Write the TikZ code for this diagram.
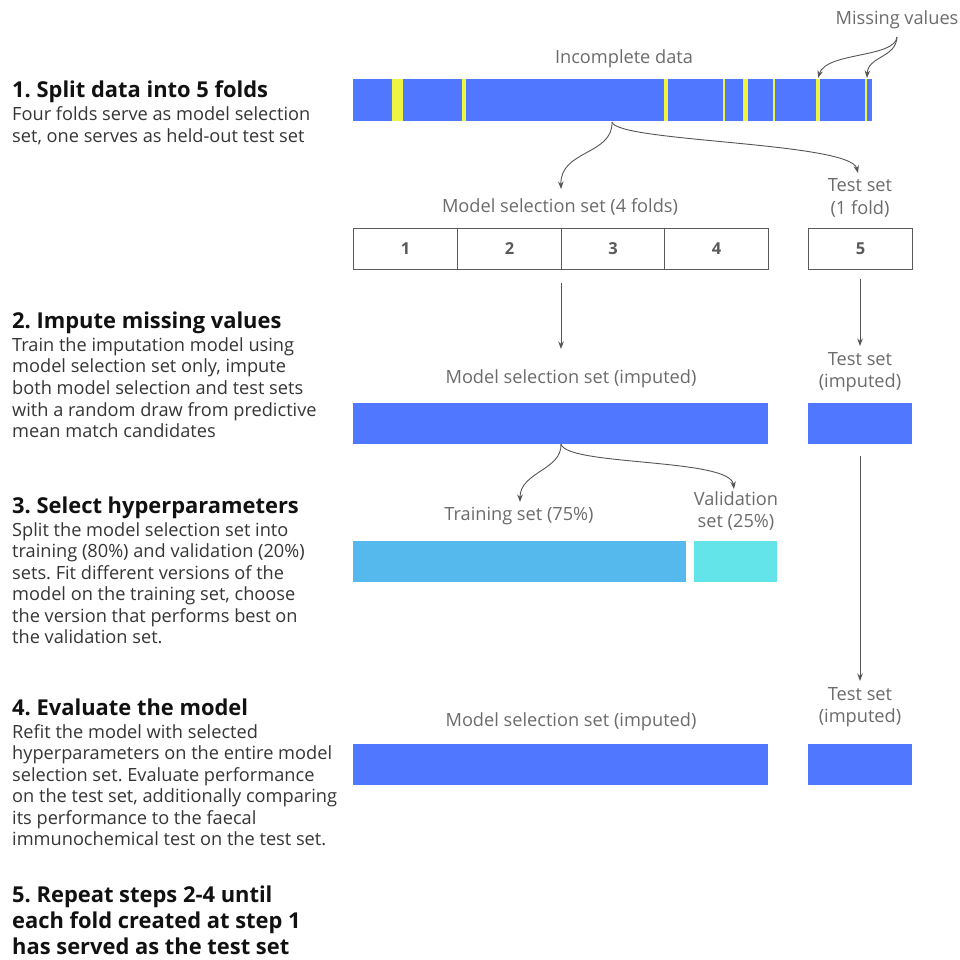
\documentclass[tikz,border=0pt]{standalone}
\usepackage{fontspec}
\setmainfont{Open Sans}
\frenchspacing
\usetikzlibrary{arrows.meta}
\definecolor{barblue}{HTML}{4F77FF}
\definecolor{misy}{HTML}{EDF542}
\definecolor{trainc}{HTML}{55B9EE}
\definecolor{validc}{HTML}{62E4E9}
\definecolor{labc}{HTML}{6B6B6B}
\definecolor{linec}{HTML}{555555}
\definecolor{bodyc}{HTML}{353535}
\definecolor{headc}{HTML}{111111}
\definecolor{foldc}{HTML}{5A5A5A}
\tikzset{
  head/.style={anchor=base west, inner sep=0, font=\fontsize{21.9}{25}\selectfont\bfseries, text=headc},
  bodyl/.style={anchor=base west, inner sep=0, font=\fontsize{18.2}{21}\selectfont, text=bodyc},
  lab/.style={anchor=base, inner sep=0, font=\fontsize{18.2}{21}\selectfont, text=labc},
  bar/.style={anchor=north west, inner sep=0, draw=none},
  foldbox/.style={anchor=north west, inner sep=0, draw=foldc, line width=1pt, minimum height=41pt, font=\fontsize{16.5}{18}\selectfont\bfseries, text=foldc},
  arr/.style={draw=linec, line width=0.9pt, -{Stealth[length=7.5pt,width=5.5pt]}},
}
\begin{document}
\begin{tikzpicture}[x=1pt,y=-1pt]
\useasboundingbox (0,0) rectangle (960,960);
% ---------- left texts ----------
\node[head] (h1) at (12,98) {1. Split data into 5 folds};
\foreach \t [count=\i] in {Four folds serve as model selection, {set, one serves as held-out test set}}
  \node[bodyl] (b1-\i) at (12,{121+21.7*(\i-1)}) {\t};
\node[head] (h2) at (12,328) {2. Impute missing values};
\foreach \t [count=\i] in {Train the imputation model using, {model selection set only, impute}, both model selection and test sets, with a random draw from predictive, mean match candidates}
  \node[bodyl] (b2-\i) at (12,{351+21.7*(\i-1)}) {\t};
\node[head] (h3) at (12,513) {3. Select hyperparameters};
\foreach \t [count=\i] in {Split the model selection set into, training (80\%) and validation (20\%), sets. Fit different versions of the, {model on the training set, choose}, the version that performs best on, the validation set.}
  \node[bodyl] (b3-\i) at (12,{536+21.5*(\i-1)}) {\t};
\node[head] (h4) at (12,715) {4. Evaluate the model};
\foreach \t [count=\i] in {Refit the model with selected, hyperparameters on the entire model, selection set. Evaluate performance, {on the test set, additionally comparing}, its performance to the faecal, immunochemical test on the test set.}
  \node[bodyl] (b4-\i) at (12,{738+21.5*(\i-1)}) {\t};
\foreach \t [count=\i] in {5. Repeat steps 2-4 until, each fold created at step 1, has served as the test set}
  \node[head] (h5-\i) at (12,{902+26*(\i-1)}) {\t};
% ---------- step 1 ----------
\node[lab] (lmiss) at (897,25) {Missing values};
\node[lab] (linc) at (624,64) {Incomplete data};
\node[bar, fill=barblue, minimum width=519pt, minimum height=42pt] (raw) at (353,79) {};
\foreach \a/\b [count=\i] in {391.5/402.5, 461.8/465.5, 664/667.8, 723/725, 743/748.4, 773.4/775.4, 816.2/820, 864.6/867}
  \fill[misy] (\a,79) rectangle (\b,121);
\coordinate (mj) at (897,37);
\coordinate (mt1) at (818,78);
\coordinate (mt2) at (867,78);
\draw[arr] (mj) .. controls (895,58) and (826,52) .. (mt1);
\draw[arr] (mj) .. controls (896,58) and (868,56) .. (mt2);
\coordinate (j1) at (612,122);
\coordinate (t1) at (561,189);
\coordinate (t2) at (858,173);
\draw[arr] (j1) .. controls (613,155) and (560,150) .. (t1);
\draw[arr] (j1) .. controls (616,142) and (850,142) .. (t2);
\node[lab] (lmss) at (560,212) {Model selection set (4 folds)};
\node[lab] (lts1a) at (860,192) {Test set};
\node[lab] (lts1b) at (860,214) {(1 fold)};
\node[foldbox, minimum width=104pt] (f1) at (353,228) {1};
\node[foldbox, minimum width=104pt] (f2) at (457,228) {2};
\node[foldbox, minimum width=103pt] (f3) at (561,228) {3};
\node[foldbox, minimum width=104pt] (f4) at (664,228) {4};
\node[foldbox, minimum width=104pt] (f5) at (808,228) {5};
% ---------- step 2 ----------
\coordinate (a1s) at (561,283);
\coordinate (a1e) at (561,349);
\coordinate (a2s) at (860,279);
\coordinate (a2e) at (860,346);
\draw[arr] (a1s) -- (a1e);
\draw[arr] (a2s) -- (a2e);
\node[lab] (lmsi) at (571,383) {Model selection set (imputed)};
\node[lab] (lti1a) at (860,365) {Test set};
\node[lab] (lti1b) at (860,387) {(imputed)};
\node[bar, fill=barblue, minimum width=415pt, minimum height=41pt] (msi) at (353,403) {};
\node[bar, fill=barblue, minimum width=104pt, minimum height=41pt] (tsi) at (808,403) {};
% ---------- step 3 ----------
\coordinate (j2) at (561,444);
\coordinate (t3) at (520,502);
\coordinate (t4) at (734,489);
\draw[arr] (j2) .. controls (562,470) and (520,472) .. (t3);
\draw[arr] (j2) .. controls (566,466) and (730,458) .. (t4);
\node[lab] (ltr) at (519,520) {Training set (75\%)};
\node[lab] (lva) at (736,505) {Validation};
\node[lab] (lvb) at (736,527) {set (25\%)};
\node[bar, fill=trainc, minimum width=333pt, minimum height=41pt] (trn) at (353,541) {};
\node[bar, fill=validc, minimum width=83pt, minimum height=41pt] (val) at (694,541) {};
\coordinate (a3s) at (860,456);
\coordinate (a3e) at (860,681);
\draw[arr] (a3s) -- (a3e);
% ---------- step 4 ----------
\node[lab] (lms4) at (571,726) {Model selection set (imputed)};
\node[lab] (lt4a) at (860,700) {Test set};
\node[lab] (lt4b) at (860,722) {(imputed)};
\node[bar, fill=barblue, minimum width=415pt, minimum height=41pt] (ms4) at (353,744) {};
\node[bar, fill=barblue, minimum width=104pt, minimum height=41pt] (ts4) at (808,744) {};
\end{tikzpicture}
\end{document}
